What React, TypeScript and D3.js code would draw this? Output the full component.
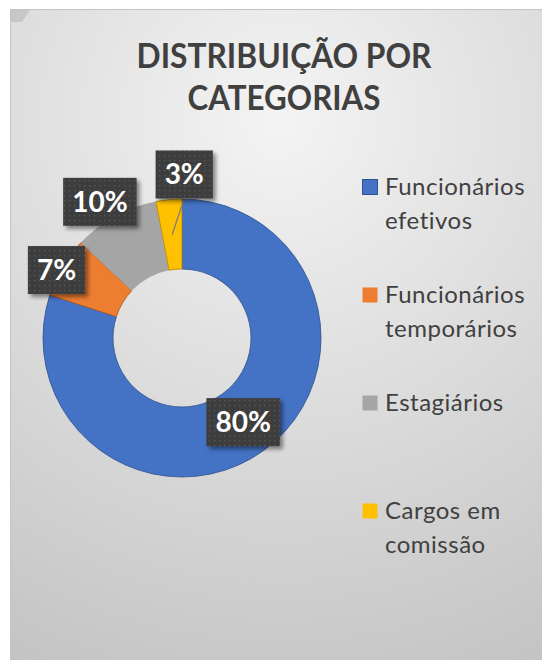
import React, { useEffect, useRef } from 'react';
import * as d3 from 'd3';

// dados do gráfico
const categorias = ['Funcionários efetivos', 'Funcionários temporários', 'Estagiários', 'Cargos em comissão'];
const legendaLinhas = [['Funcionários', 'efetivos'], ['Funcionários', 'temporários'], ['Estagiários'], ['Cargos em', 'comissão']];
const valores = [80, 7, 10, 3];
const cores = ['#4472C4', '#ED7D31', '#A5A5A5', '#FFC000'];
const titulo = ['DISTRIBUIÇÃO POR', 'CATEGORIAS'];

function App() {
  const ref = useRef<SVGSVGElement>(null);

  useEffect(() => {
    const width = 542;
    const height = 660;
    const svg = d3.select(ref.current);
    svg.selectAll('*').remove();

    const defs = svg.append('defs');
    // fundo em degradê
    const grad = defs.append('radialGradient')
      .attr('id', 'fundo')
      .attr('gradientUnits', 'userSpaceOnUse')
      .attr('cx', 280).attr('cy', 120).attr('r', 620);
    grad.append('stop').attr('offset', '0%').attr('stop-color', '#f4f4f4');
    grad.append('stop').attr('offset', '100%').attr('stop-color', '#c2c2c2');

    // padrão pontilhado das caixas dos rótulos
    const pat = defs.append('pattern')
      .attr('id', 'pontos')
      .attr('patternUnits', 'userSpaceOnUse')
      .attr('width', 5).attr('height', 5);
    pat.append('rect').attr('width', 5).attr('height', 5).attr('fill', '#3c3c3c');
    pat.append('rect').attr('x', 2).attr('y', 2).attr('width', 1.3).attr('height', 1.3).attr('fill', '#5a5a5a');

    const sombra = defs.append('filter').attr('id', 'sombra')
      .attr('x', '-20%').attr('y', '-20%').attr('width', '150%').attr('height', '150%');
    sombra.append('feDropShadow')
      .attr('dx', 3).attr('dy', 3).attr('stdDeviation', 2)
      .attr('flood-color', '#000').attr('flood-opacity', 0.45);

    // moldura
    svg.append('rect')
      .attr('x', 10.5).attr('y', 9.5)
      .attr('width', width + 20).attr('height', height + 20)
      .attr('fill', 'url(#fundo)')
      .attr('stroke', '#c4c4c4');
    svg.append('path')
      .attr('d', 'M11,10 L30,10 L22,22 L11,22 Z')
      .attr('fill', '#bdbdbd').attr('opacity', 0.7);

    // título (largura ajustada para imitar a Calibri)
    const larguras = [295, 193];
    svg.append('g').selectAll('text')
      .data(titulo)
      .enter()
      .append('text')
      .attr('x', 284)
      .attr('y', (d, i) => 68 + i * 42)
      .attr('text-anchor', 'middle')
      .attr('textLength', (d, i) => larguras[i])
      .attr('lengthAdjust', 'spacingAndGlyphs')
      .style('font-family', 'Lato, sans-serif')
      .style('font-weight', 'bold')
      .style('font-size', '35px')
      .attr('fill', '#404040')
      .text(d => d);

    // rosca
    const cx = 182;
    const cy = 338;
    const rOut = 139;
    const rIn = 69;
    const pie = d3.pie<number>().sort(null).value(d => d);
    const arcs = pie(valores);
    const arc = d3.arc<d3.PieArcDatum<number>>().innerRadius(rIn).outerRadius(rOut);
    const total = d3.sum(valores);

    const g = svg.append('g').attr('transform', 'translate(' + cx + ',' + cy + ')');
    g.selectAll('path')
      .data(arcs)
      .enter()
      .append('path')
      .attr('d', arc)
      .attr('fill', (d, i) => cores[i])
      .attr('stroke', (d, i) => (i === 2 ? 'none' : d3.color(cores[i])!.darker(1).toString()))
      .attr('stroke-width', 0.8);

    // deslocamento dos rótulos em relação ao centróide
    const desloc = [[0, 0], [-36, -15], [-32, -45], [12, -60]];

    const rot = g.append('g');
    arcs.forEach((a, i) => {
      const [mx, my] = arc.centroid(a);
      const lx = mx + desloc[i][0];
      const ly = my + desloc[i][1];
      const txt = Math.round((a.data / total) * 100) + '%';

      const grp = rot.append('g');
      const box = grp.append('rect').attr('fill', 'url(#pontos)').attr('filter', 'url(#sombra)');
      const t = grp.append('text')
        .attr('x', lx)
        .attr('y', ly + 10)
        .attr('text-anchor', 'middle')
        .style('font-family', 'Lato, sans-serif')
        .style('font-weight', 'bold')
        .style('font-size', '28px')
        .attr('fill', '#ffffff')
        .text(txt);
      const w = (t.node() as SVGTextElement).getComputedTextLength() + 18;
      const h = 48;
      box.attr('x', lx - w / 2).attr('y', ly - h / 2).attr('width', w).attr('height', h);

      // linha guia só para o rótulo da fatia pequena de cima
      if (Math.hypot(desloc[i][0], desloc[i][1]) > 58) {
        g.insert('line', 'g')
          .attr('x1', mx).attr('y1', my)
          .attr('x2', lx - 1).attr('y2', ly + h / 2 + 3)
          .attr('stroke', '#7f7f7f')
          .attr('stroke-width', 1.3);
      }
    });

    // legenda
    const leg = svg.append('g');
    categorias.forEach((c, i) => {
      const y0 = 179 + i * 108;
      leg.append('rect')
        .attr('x', 362.5).attr('y', y0 + 0.5)
        .attr('width', 15).attr('height', 15)
        .attr('fill', cores[i])
        .attr('stroke', i === 0 ? '#2f528f' : 'none');
      leg.append('text')
        .attr('x', 385)
        .attr('y', y0 + 15.5)
        .style('font-family', 'Lato, sans-serif')
        .style('font-size', '24px')
        .style('letter-spacing', '0.5px')
        .attr('fill', '#404040')
        .selectAll('tspan')
        .data(legendaLinhas[i])
        .enter()
        .append('tspan')
        .attr('x', 385)
        .attr('dy', (d, j) => (j === 0 ? 0 : 34))
        .text(d => d);
    });
  }, []);

  return (
    <svg ref={ref} width={542} height={660}
      style={{ position: 'absolute', left: 0, top: 0, background: '#ffffff' }} />
  );
}

export default App;
